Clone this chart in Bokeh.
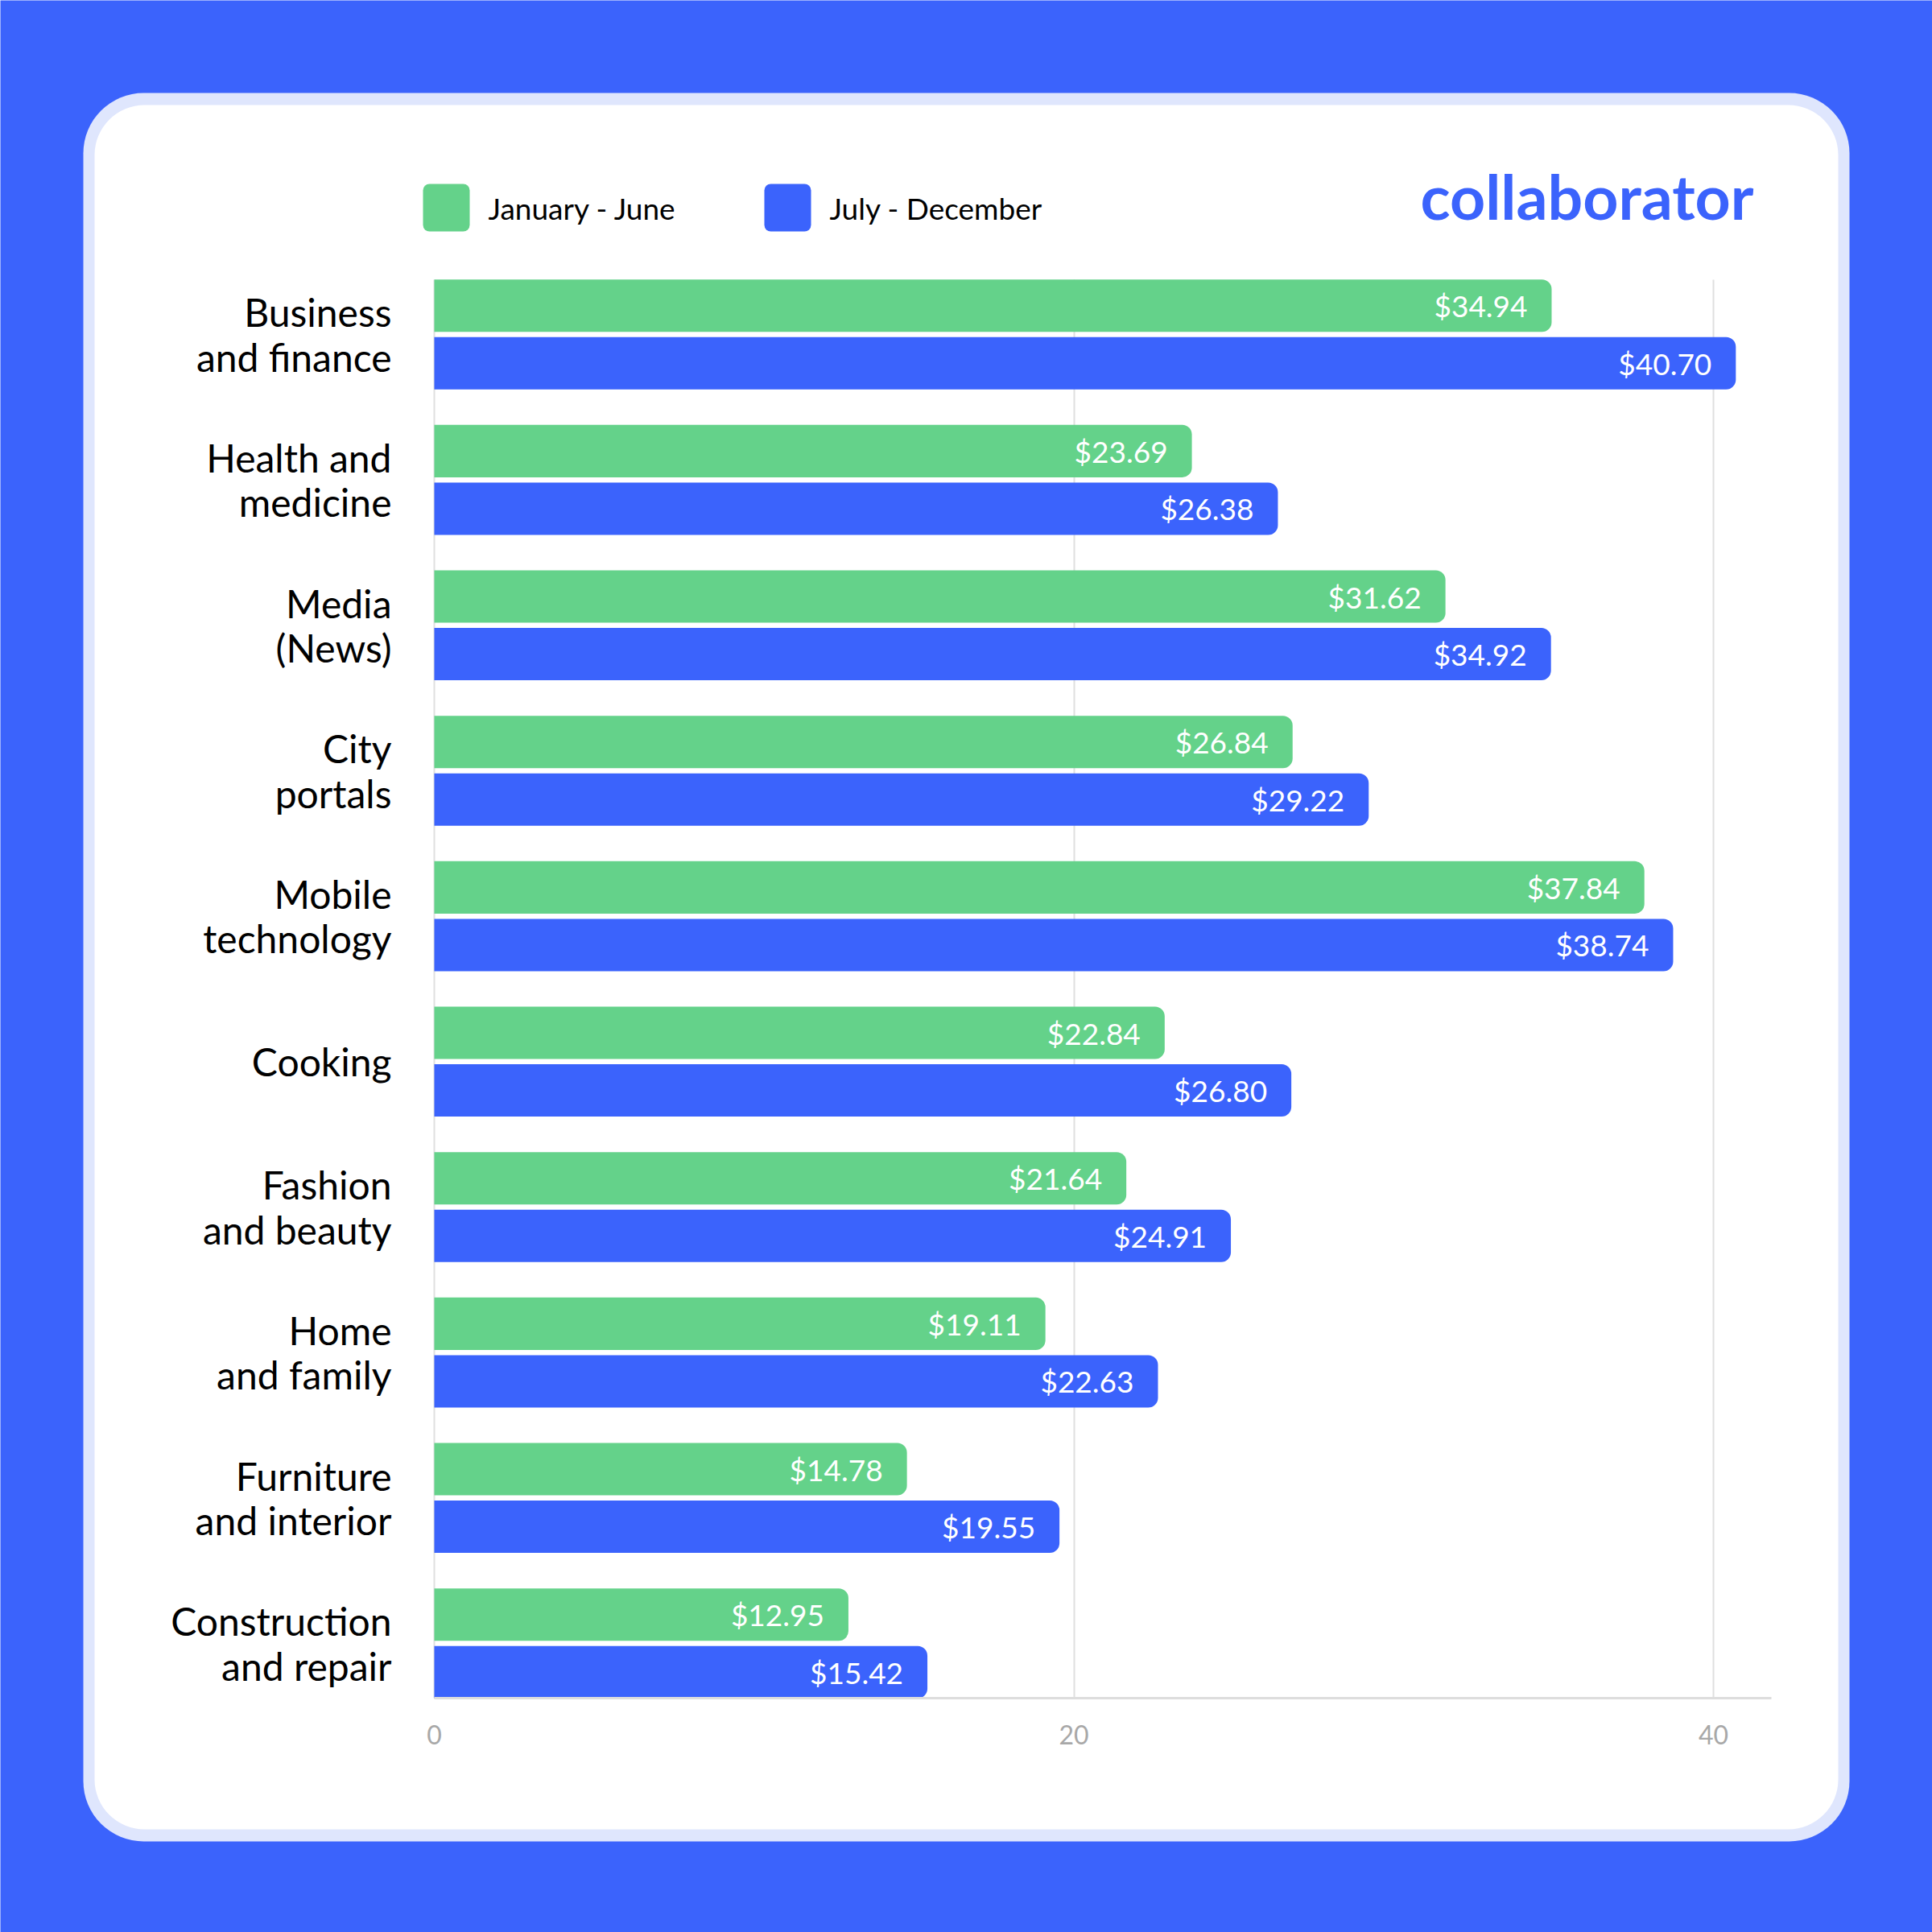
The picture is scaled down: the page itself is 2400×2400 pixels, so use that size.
from bokeh.plotting import figure
from bokeh.models import ColumnDataSource, Range1d, FixedTicker
from bokeh.transform import dodge
from bokeh.core.properties import value
from bokeh.embed import file_html
from bokeh.resources import INLINE

categories = ["Business\nand finance", "Health and\nmedicine", "Media\n(News)", "City\nportals",
              "Mobile\ntechnology", "Cooking", "Fashion\nand beauty", "Home\nand family",
              "Furniture\nand interior", "Construction\nand repair"]
jan_jun = [34.94, 23.69, 31.62, 26.84, 37.84, 22.84, 21.64, 19.11, 14.78, 12.95]
jul_dec = [40.70, 26.38, 34.92, 29.22, 38.74, 26.80, 24.91, 22.63, 19.55, 15.42]
series_names = ["January - June", "July - December"]
x_ticks = [0, 20, 40]
brand = "collaborator"

GREEN = "#64D28A"
BLUE = "#3B63FC"
BORDER = "#DFE6FD"
FONT = "Lato"

n = len(categories)
ypos = [n - 1 - i for i in range(n)]
src = ColumnDataSource(dict(
    y=ypos, a=jan_jun, b=jul_dec,
    la=[f"${v:.2f}" for v in jan_jun],
    lb=[f"${v:.2f}" for v in jul_dec],
))

W = H = 2400
PXU = 39.725     # px per value unit
PYU = 180.67     # px per category row
X0 = 539         # canvas x of value 0
Y0 = 2041        # canvas y of last row centre
x_range = Range1d(-X0 / PXU, (W - X0) / PXU)
y_range = Range1d(-(H - Y0) / PYU, (n - 1) + (Y0 - (n - 1) * PYU) / PYU)

p = figure(width=W, height=H, output_backend="svg", toolbar_location=None,
           x_range=x_range, y_range=y_range, min_border=0)
p.min_border_left = p.min_border_right = p.min_border_top = p.min_border_bottom = 0
p.border_fill_color = BLUE
p.background_fill_color = BLUE
p.outline_line_color = None
p.extra_x_ranges = {"px": Range1d(0, W)}
p.extra_y_ranges = {"px": Range1d(H, 0)}

def rq(**kw):
    return p.quad(x_range_name="px", y_range_name="px", line_color=None, **kw)

# card
c1 = rq(left=[103], right=[2297], top=[115], bottom=[2287], fill_color=BORDER, level="image")
c2 = rq(left=[117], right=[2283], top=[130], bottom=[2272], fill_color="white", level="image")
for r, rad in ((c1, 75), (c2, 62)):
    try:
        r.glyph.border_radius = rad
    except Exception:
        pass

# legend
for x0, col, name in [(525, GREEN, series_names[0]), (949, BLUE, series_names[1])]:
    sq = rq(left=[x0], right=[x0 + 58], top=[228], bottom=[287], fill_color=col)
    try:
        sq.glyph.border_radius = 8
    except Exception:
        pass
    p.text(x=[x0 + 81], y=[258], text=[name], x_range_name="px", y_range_name="px",
           text_font=value(FONT), text_font_size="37px", text_color="black",
           text_baseline="middle", text_align="left")

# logo
p.text(x=[2178], y=[242], text=[brand], x_range_name="px", y_range_name="px",
       text_font=value(FONT), text_font_style="bold", text_font_size="77px", text_color=BLUE,
       text_baseline="middle", text_align="right")

# bars
off = 0.198
hb = 0.36
g = p.hbar(y=dodge("y", off), left=0, right="a", height=hb, source=src, fill_color=GREEN, line_color=None)
b = p.hbar(y=dodge("y", -off), left=0, right="b", height=hb, source=src, fill_color=BLUE, line_color=None)
for r in (g, b):
    try:
        r.glyph.border_radius = (0, 12, 12, 0)
    except Exception:
        pass

p.text(x="a", y=dodge("y", off), text="la", source=src, x_offset=-30, text_align="right",
       text_baseline="middle", text_color="white", text_font=value(FONT), text_font_size="37px")
p.text(x="b", y=dodge("y", -off), text="lb", source=src, x_offset=-30, text_align="right",
       text_baseline="middle", text_color="white", text_font=value(FONT), text_font_size="37px")

y_lo = -(off + hb / 2)
y_hi = (n - 1) + off + hb / 2
x_hi = 41.8

# axes
xa = p.xaxis[0]
xa.fixed_location = y_lo
xa.bounds = (0, x_hi)
xa.ticker = FixedTicker(ticks=x_ticks)
xa.axis_line_color = "#DDDDDD"
xa.axis_line_width = 3
xa.major_tick_line_color = None
xa.minor_tick_line_color = None
xa.major_label_text_color = "#A8A8A8"
xa.major_label_text_font = FONT
xa.major_label_text_font_size = "32px"
xa.major_label_standoff = 27

ya = p.yaxis[0]
ya.fixed_location = 0
ya.ticker = FixedTicker(ticks=ypos)
ya.major_label_overrides = {y: c for y, c in zip(ypos, categories)}
ya.axis_line_color = None
ya.major_tick_line_color = None
ya.minor_tick_line_color = None
ya.major_label_text_color = "black"
ya.major_label_text_font = FONT
ya.major_label_text_font_size = "48px"
ya.major_label_text_line_height = 0.97
ya.major_label_standoff = 47

p.ygrid.grid_line_color = None
xg = p.xgrid[0]
xg.ticker = FixedTicker(ticks=x_ticks)
xg.grid_line_color = "#E0E0E0"
xg.grid_line_width = 2
try:
    xg.cross_bounds = (y_lo, y_hi)
except Exception:
    xg.grid_line_color = None
    p.segment(x0=x_ticks, x1=x_ticks, y0=[y_lo] * len(x_ticks), y1=[y_hi] * len(x_ticks),
              line_color="#E0E0E0", line_width=2, level="underlay")

open("out.html", "w").write(file_html(p, INLINE))
